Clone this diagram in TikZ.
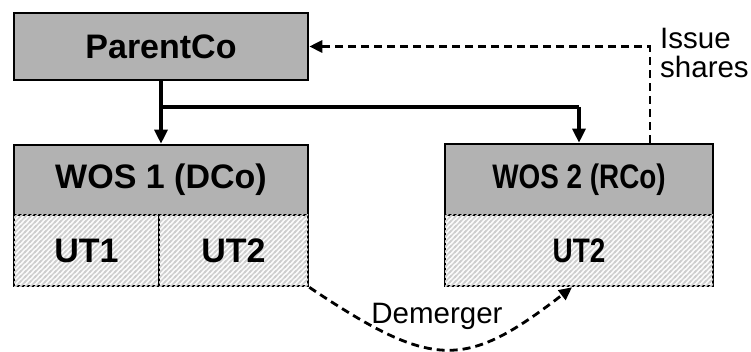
\documentclass[tikz,border=0pt]{standalone}
\usepackage{fontspec}
\setmainfont{Liberation Sans}
\usetikzlibrary{arrows.meta,patterns,positioning,calc}
\definecolor{boxgray}{RGB}{178,178,178}
\definecolor{hatchbg}{RGB}{250,250,250}
\definecolor{hatchline}{RGB}{206,206,206}
\pgfdeclarepatternformonly{myhatch}{\pgfpoint{-1pt}{-1pt}}{\pgfpoint{6pt}{6pt}}{\pgfpoint{5pt}{5pt}}{
  \pgfsetlinewidth{1.3pt}
  \pgfpathmoveto{\pgfpoint{-1pt}{-1pt}}\pgfpathlineto{\pgfpoint{6pt}{6pt}}
  \pgfpathmoveto{\pgfpoint{-1pt}{4pt}}\pgfpathlineto{\pgfpoint{2pt}{7pt}}
  \pgfpathmoveto{\pgfpoint{4pt}{-1pt}}\pgfpathlineto{\pgfpoint{7pt}{2pt}}
  \pgfusepath{stroke}}
\tikzset{
  hdr/.style={draw,line width=2.6pt,fill=boxgray,rectangle,inner sep=0pt,
    font=\fontsize{34}{38}\selectfont\bfseries},
  cell/.style={draw,line width=2.6pt,rectangle,inner sep=0pt,
    fill=hatchbg,postaction={pattern=myhatch,pattern color=hatchline},
    font=\fontsize{34}{38}\selectfont\bfseries},
  solidarr/.style={line width=3.2pt,-{Triangle[length=14pt,width=13pt]}},
  dasharr/.style={line width=2.8pt,dash pattern=on 8pt off 5pt,-{Triangle[length=13pt,width=12pt]}},
  lbl/.style={font=\fontsize{29.5}{30}\selectfont,inner sep=0pt}
}
\begin{document}
\begin{tikzpicture}[x=1pt,y=-1pt]
\useasboundingbox (0,0) rectangle (751,352);
% ParentCo
\node[hdr,minimum width=294pt,minimum height=67pt] (pc) at (161,46.5) {ParentCo};
% WOS 1
\node[hdr,minimum width=294pt,minimum height=70pt] (w1) at (161,180) {WOS 1 (DCo)};
\node[cell,minimum width=145pt,minimum height=71pt] (u11) at (86.5,250.5) {UT1};
\node[cell,minimum width=149pt,minimum height=71pt] (u12) at (233.5,250.5) {UT2};
% WOS 2
\node[hdr,minimum width=268pt,minimum height=71pt] (w2) at (579,179.5) {\scalebox{0.82}[1]{WOS 2 (RCo)}};
\node[cell,minimum width=268pt,minimum height=71pt] (u2) at (579,250.5) {\scalebox{0.82}[1]{UT2}};
% solid connectors
\coordinate (br) at (161,107);
\draw[solidarr] (pc.south) -- (w1.north);
\draw[line width=3.2pt] (br) -- (br -| w2.north);
\draw[solidarr] (br -| w2.north) -- (w2.north);
% issue shares
\coordinate (is) at ([xshift=71pt]w2.north);
\draw[dasharr] (is) |- (pc.east);
\node[lbl,anchor=base west,align=left] (islbl) at (660,78) {Issue\\[-0.5pt]shares};
% demerger
\coordinate (dm) at ([xshift=-7pt]u2.south);
\draw[dasharr] (u12.south east) .. controls (433,370) and (465,370) .. (dm);
\node[lbl,anchor=base] (dmlbl) at (437,323) {Demerger};
\end{tikzpicture}
\end{document}
